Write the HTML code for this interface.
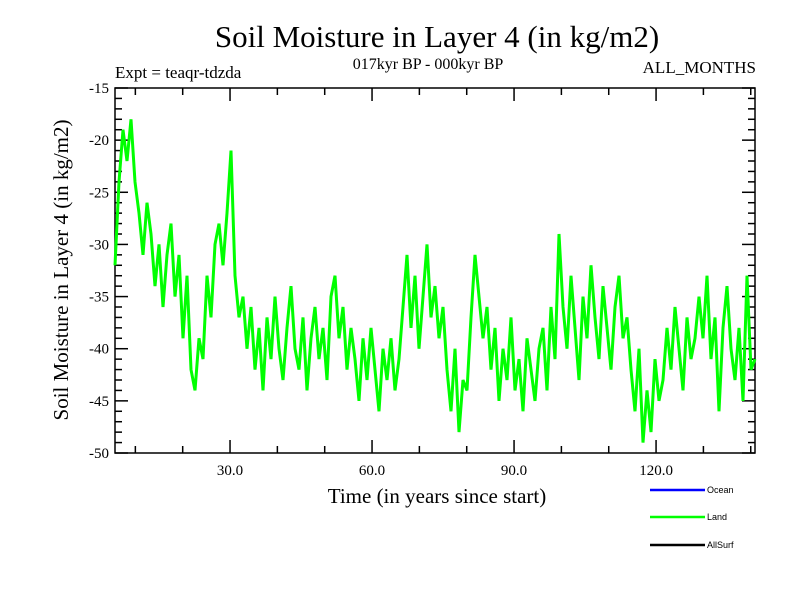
<!DOCTYPE html>
<html><head><meta charset="utf-8"><style>
body{margin:0;background:#fff;}
svg text{font-family:"Liberation Serif",serif;}
</style></head><body>
<svg id="chart" width="800" height="600" xmlns="http://www.w3.org/2000/svg">
<rect width="800" height="600" fill="#fff"/>
<text x="437" y="47" font-size="31" text-anchor="middle">Soil Moisture in Layer 4 (in kg/m2)</text>
<text x="115" y="78" font-size="17">Expt = teaqr-tdzda</text>
<text x="428" y="69" font-size="16" text-anchor="middle">017kyr BP - 000kyr BP</text>
<text x="756" y="73" font-size="17" text-anchor="end">ALL_MONTHS</text>
<text transform="translate(68,270) rotate(-90)" font-size="21" text-anchor="middle">Soil Moisture in Layer 4 (in kg/m2)</text>
<text x="437" y="503" font-size="21" text-anchor="middle">Time (in years since start)</text>
<g id="axes"></g>
<g id="series"></g>
<g id="legend">
<line x1="650" y1="490" x2="705" y2="490" stroke="#0000ff" stroke-width="2.5"/>
<text x="707" y="493" font-size="9" style="font-family:'Liberation Sans',sans-serif">Ocean</text>
<line x1="650" y1="517" x2="705" y2="517" stroke="#00ff00" stroke-width="2.5"/>
<text x="707" y="520" font-size="9" style="font-family:'Liberation Sans',sans-serif">Land</text>
<line x1="650" y1="545" x2="705" y2="545" stroke="#000" stroke-width="2.5"/>
<text x="707" y="548" font-size="9" style="font-family:'Liberation Sans',sans-serif">AllSurf</text>
</g>
</svg>
<script>
const xStart = 5.7;
const xStep = 0.845;
const landValues = [-32,-24,-19,-22,-18, -24,-27,-31,-26, -29,-34,-30,-36,-31, -28,-35,-31,-39,-33, -42,-44,-39, -41,-33,-37, -30,-28,-32,-27,-21, -33,-37,-35,
-40,-36,-42,-38,-44,-37,-41,-35,-40,-43,-38,-34,-40,-42,-37,-44,-39,-36,-41,-38,-43,-35,
-33,-39,-36,-42,-38, -41,-45,-39,-43,-38,-42,-46,-40,-43,-39,-44,-41,
-36,-31,-38,-33,-40,-35,-30,-37,-34,-39,-36, -42,-46,-40,-48,-43,-44, -37,-31,-35,-39,-36,
-42,-38,-45,-40,-43,-37,-44,-41,-46,-39,-42,-45,-40, -38,-44,-36,-41, -29,
-36,-40,-33,-38,-43,-35,-39,-32,-37,-41,-34,-38,-42,-36,-33,-39,-37,
-42,-46,-40,-49,-44,-48,-41,-45,-43, -38,-42,-36,-40,-44,-37,-41,-39,
-35,-39,-33,-41,-37,-46,-38,-34,-40, -43,-38,-45,-33,-42,-41];
const yTicks = [-15,-20,-25,-30,-35,-40,-45,-50];
const xTickValues = [30,60,90,120];
const xTickLabels = ["30.0","60.0","90.0","120.0"];

const L=115,R=755,T=88,B=453;
const xMin=5.7, xMax=140.9, yMin=-50, yMax=-15;
const sx=v=>L+(v-xMin)/(xMax-xMin)*(R-L);
const sy=v=>B-(v-yMin)/(yMax-yMin)*(B-T);
const NS="http://www.w3.org/2000/svg";
function mk(tag,attrs,parent){const e=document.createElementNS(NS,tag);for(const k in attrs)e.setAttribute(k,attrs[k]);parent.appendChild(e);return e;}
const axes=document.getElementById('axes');
const frame=mk('rect',{x:L,y:T,width:R-L,height:B-T,fill:'none',stroke:'#000','stroke-width':1.5},axes);


for(let v=-50;v<=-15;v++){
  const y=sy(v);const major=(v%5===0);const len=major?13:7;
  const t1=mk('line',{x1:L,y1:y,x2:L+len,y2:y,stroke:'#000','stroke-width':1.5},axes);
  
  
  const t2=mk('line',{x1:R,y1:y,x2:R-len,y2:y,stroke:'#000','stroke-width':1.5},axes);
  
  
}
yTicks.forEach(v=>{
  const t=mk('text',{x:L-6,y:sy(v)+5,'font-size':15,'text-anchor':'end'},axes);t.textContent=v;
  
  
});
for(let v=10;v<=140;v+=10){
  const x=sx(v);const major=(v%30===0);const len=major?13:7;
  const a=mk('line',{x1:x,y1:B,x2:x,y2:B-len,stroke:'#000','stroke-width':1.5},axes);
  
  
  const b=mk('line',{x1:x,y1:T,x2:x,y2:T+len,stroke:'#000','stroke-width':1.5},axes);
  
  
}
xTickValues.forEach((v,i)=>{
  const t=mk('text',{x:sx(v),y:B+22,'font-size':15,'text-anchor':'middle'},axes);t.textContent=xTickLabels[i];
  
  
});
const pts=landValues.map((v,i)=>sx(xStart+i*xStep).toFixed(1)+','+sy(v).toFixed(1)).join(' ');
const line=mk('polyline',{points:pts,fill:'none',stroke:'#00ff00','stroke-width':3,'stroke-linejoin':'miter'},document.getElementById('series'));


</script>
</body></html>
